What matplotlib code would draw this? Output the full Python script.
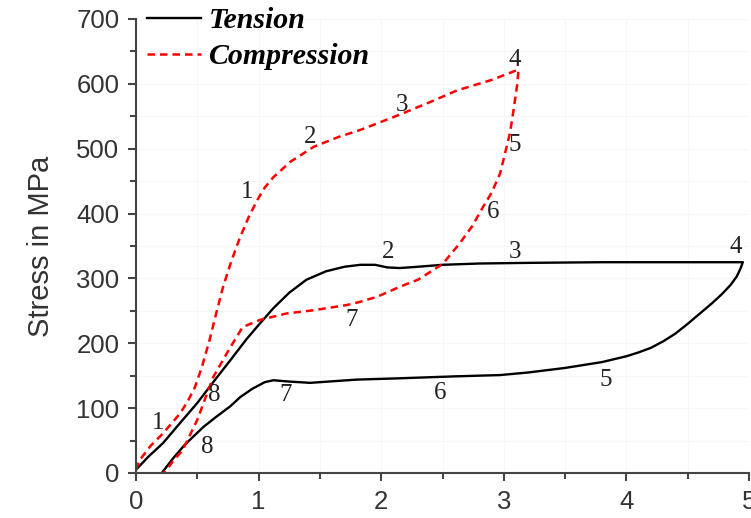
import matplotlib
matplotlib.use("Agg")
import matplotlib.pyplot as plt
from matplotlib.ticker import MultipleLocator

# strain (%) / stress (MPa)
tension_strain = [0, 0.1, 0.22, 0.35, 0.5, 0.65, 0.77, 0.9, 0.99, 1.12, 1.25, 1.39, 1.55, 1.7,
                  1.83, 1.95, 2.05, 2.15, 2.3, 2.5, 2.8, 3.2, 3.8, 4.5, 4.95,
                  4.93, 4.9, 4.85, 4.78, 4.7, 4.6, 4.5, 4.4, 4.3, 4.2, 4.1, 4.0, 3.8, 3.5,
                  3.2, 2.97, 2.6, 2.15, 1.8, 1.42, 1.25, 1.12, 1.05, 0.95, 0.85, 0.77,
                  0.65, 0.55, 0.4, 0.3, 0.21]
tension_stress = [5, 25, 46, 75, 108, 145, 174, 206, 226, 254, 278, 298, 311, 318,
                  321, 321, 317, 316, 318, 321, 323, 324, 325, 325, 325,
                  315, 303, 290, 276, 262, 246, 230, 215, 203, 193, 186, 180, 171, 162,
                  155, 151, 149, 146, 144, 139, 141, 143, 140, 130, 117, 103,
                  86, 71, 44, 22, 0]

comp_strain = [0, 0.03, 0.12, 0.22, 0.36, 0.42, 0.48, 0.54, 0.6, 0.65, 0.71, 0.78, 0.85, 0.92,
               0.99, 1.05, 1.12, 1.26, 1.45, 1.65, 1.83, 2.13, 2.4, 2.62, 2.9, 3.12,
               3.11, 3.08, 3.05, 2.97, 2.9, 2.83, 2.74, 2.64, 2.5, 2.3, 2.15, 1.97, 1.83,
               1.72, 1.45, 1.23, 1.01, 0.87, 0.77, 0.63, 0.5, 0.38, 0.3, 0.25, 0.22]
comp_stress = [5, 20, 42, 61, 92, 110, 132, 165, 205, 243, 287, 328, 364, 395,
               421, 440, 456, 480, 503, 518, 529, 551, 572, 590, 606, 622,
               600, 560, 524, 462, 432, 410, 380, 354, 322, 298, 287, 272, 264,
               259, 251, 246, 236, 225, 194, 148, 82, 35, 18, 5, 0]

tension_labels = ["1", "2", "3", "4", "5", "6", "7", "8", "8"]
tension_label_x = [0.18, 2.06, 3.09, 4.89, 3.83, 2.48, 1.22, 0.64, 0.58]
tension_label_y = [77, 341, 341, 348, 143, 123, 120, 120, 40]

comp_labels = ["1", "2", "3", "4", "5", "6", "7"]
comp_label_x = [0.91, 1.42, 2.17, 3.09, 3.09, 2.91, 1.76]
comp_label_y = [433, 518, 567, 637, 506, 402, 236]

fig = plt.figure(figsize=(7.51, 5.18), dpi=100)
ax = fig.add_axes([136 / 751, 45 / 518, 613 / 751, 454 / 518])

ax.plot(tension_strain, tension_stress, color="black", lw=1.7, label="Tension")
ax.plot(comp_strain, comp_stress, color="red", lw=1.8, linestyle=(0, (3, 2)),
        label="Compression")

for t, x, y in zip(tension_labels + comp_labels, tension_label_x + comp_label_x,
                   tension_label_y + comp_label_y):
    ax.text(x, y, t, fontsize=18, family="Liberation Serif", color="#222222",
            ha="center", va="center")

ax.set_xlim(0, 5)
ax.set_ylim(0, 700)
ax.xaxis.set_major_locator(MultipleLocator(1))
ax.xaxis.set_minor_locator(MultipleLocator(0.5))
ax.yaxis.set_major_locator(MultipleLocator(100))
ax.yaxis.set_minor_locator(MultipleLocator(50))
ax.grid(True, which="both", color="#f7f7f7", lw=0.8)
ax.set_axisbelow(True)

for side in ["top", "right"]:
    ax.spines[side].set_visible(False)
for side in ["left", "bottom"]:
    ax.spines[side].set_color("#444444")
    ax.spines[side].set_linewidth(1.5)

ax.tick_params(which="major", length=6, width=1.5, color="#444444", labelsize=18.5,
               labelcolor="#333333", pad=6)
ax.tick_params(which="minor", length=4, width=1.5, color="#444444")
for lab in ax.get_xticklabels() + ax.get_yticklabels():
    lab.set_family("Liberation Sans")

ax.set_ylabel("Stress in MPa", fontsize=21, family="Liberation Sans", color="#333333",
              labelpad=15)

leg = ax.legend(loc="upper left", bbox_to_anchor=(147 / 751, 1 - 7 / 518),
                bbox_transform=fig.transFigure, frameon=False, borderpad=0,
                borderaxespad=0, handlelength=1.8, handletextpad=0.28, labelspacing=0.3,
                prop={"family": "Liberation Serif", "weight": "bold", "style": "italic",
                      "size": 21.5})

fig.savefig("out.png", dpi=100)
